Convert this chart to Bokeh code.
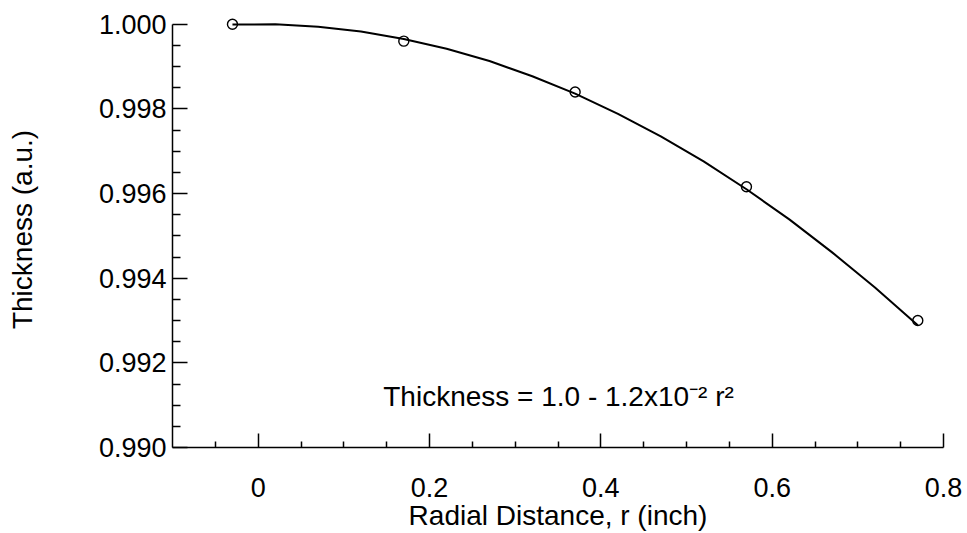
from bokeh.plotting import figure
from bokeh.models import FixedTicker, CustomJSTickFormatter, Label, Range1d
from bokeh.embed import file_html
from bokeh.resources import INLINE

# measured data points
radius_in = [-0.03, 0.17, 0.37, 0.57, 0.77]
thickness = [1.0000, 0.99960, 0.99840, 0.99616, 0.99300]

# fitted curve
curve_r = [-0.03, 0.02, 0.07, 0.12, 0.17, 0.22, 0.27, 0.32, 0.37,
           0.42, 0.47, 0.52, 0.57, 0.62, 0.67, 0.72, 0.77]
curve_t = [0.99999, 1.00000, 0.99994, 0.99983, 0.99965, 0.99942, 0.99913,
           0.99877, 0.99836, 0.99788, 0.99735, 0.99676, 0.99610, 0.99539,
           0.99461, 0.99378, 0.99289]

x_major = [0, 0.2, 0.4, 0.6, 0.8]
x_minor = [-0.05, 0.05, 0.1, 0.15, 0.25, 0.3, 0.35, 0.45, 0.5, 0.55, 0.65, 0.7, 0.75]
y_major = [0.990, 0.992, 0.994, 0.996, 0.998, 1.000]
y_minor = [0.9905, 0.991, 0.9915, 0.9925, 0.993, 0.9935, 0.9945, 0.995, 0.9955,
           0.9965, 0.997, 0.9975, 0.9985, 0.999, 0.9995]

x_label = "Radial Distance, r (inch)"
y_label = "Thickness (a.u.)"
fit_text = "Thickness = 1.0 - 1.2x10\u207b\u00b2 r\u00b2"

FONT = "Liberation Sans"

p = figure(width=967, height=533, output_backend="svg", toolbar_location=None,
           x_range=Range1d(-0.1, 0.8), y_range=Range1d(0.990, 1.0003),
           min_border_left=172, min_border_right=24, min_border_top=11,
           min_border_bottom=84)
p.outline_line_color = None
p.xgrid.visible = False
p.ygrid.visible = False
p.background_fill_color = "white"
p.border_fill_color = "white"

p.line(curve_r, curve_t, line_color="black", line_width=2)
p.scatter(radius_in, thickness, marker="circle", size=10, fill_color=None,
          line_color="black", line_width=1.4)

for ax in (p.xaxis[0], p.yaxis[0]):
    ax.axis_line_color = "black"
    ax.axis_line_width = 1.5
    ax.major_tick_line_color = "black"
    ax.minor_tick_line_color = "black"
    ax.major_tick_line_width = 1.5
    ax.minor_tick_line_width = 1.5
    ax.major_tick_out = 0
    ax.minor_tick_out = 0
    ax.major_label_text_font = FONT
    ax.major_label_text_font_size = "27px"
    ax.major_label_text_color = "black"
    ax.axis_label_text_font = FONT
    ax.axis_label_text_font_size = "28px"
    ax.axis_label_text_font_style = "normal"
    ax.axis_label_text_color = "black"

xa = p.xaxis[0]
xa.ticker = FixedTicker(ticks=x_major, minor_ticks=x_minor)
xa.formatter = CustomJSTickFormatter(code="return Math.abs(tick) < 1e-9 ? '0' : tick.toFixed(1);")
xa.major_tick_in = 14
xa.minor_tick_in = 6
xa.major_label_standoff = 30
xa.axis_label = x_label
xa.axis_label_standoff = 0

ya = p.yaxis[0]
ya.ticker = FixedTicker(ticks=y_major, minor_ticks=y_minor)
ya.formatter = CustomJSTickFormatter(code="return tick.toFixed(3);")
ya.bounds = (0.990, 1.000)
ya.major_tick_in = 15
ya.minor_tick_in = 8
ya.major_label_standoff = 6
ya.axis_label = y_label
ya.axis_label_standoff = 58

p.add_layout(Label(x=0.146, y=0.9912, text=fit_text, text_font=FONT,
                   text_font_size="28px", text_color="black",
                   text_baseline="alphabetic"))

open("out.html", "w").write(file_html(p, INLINE))
